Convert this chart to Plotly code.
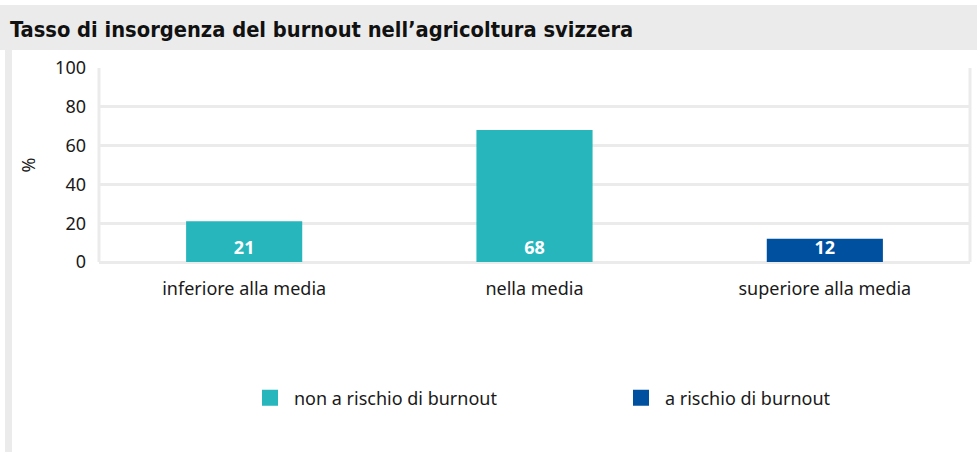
import plotly.graph_objects as go

# Burnout incidence in Swiss agriculture (% of respondents)
categories = ["inferiore alla media", "nella media", "superiore alla media"]
non_a_rischio = [21, 68, None]
a_rischio = [None, None, 12]
series_names = ["non a rischio di burnout", "a rischio di burnout"]
y_ticks = [0, 20, 40, 60, 80, 100]

TEAL = "#26b6bc"
BLUE = "#0050a0"
GRID = "#ebebeb"
FONT = "'Noto Sans', Lato, sans-serif"
FS = 18

W, H = 977, 452
L, R, T, B = 99, 7, 68, 190
pw, ph = W - L - R, H - T - B


def px_x(x):
    return (x - L) / pw


def px_y(y):
    return (H - B - y) / ph


fig = go.Figure()
for name, vals, col, leg in [(series_names[0], non_a_rischio, TEAL, "legend"),
                             (series_names[1], a_rischio, BLUE, "legend2")]:
    fig.add_trace(go.Bar(
        x=categories, y=vals, name=name, marker_color=col,
        marker_line_width=0, width=0.4, showlegend=False,
        text=[None if v is None else str(v) for v in vals],
        textposition="inside", insidetextanchor="start",
        textangle=0, constraintext="none",
        textfont=dict(color="white", size=18, family="'Noto Sans', sans-serif", weight="bold"),
        cliponaxis=False,
    ))
    # legend entry with a larger square swatch
    fig.add_trace(go.Scatter(
        x=[None], y=[None], mode="markers", name=name, legend=leg,
        marker=dict(symbol="square", size=20, color=col),
    ))

shapes = [
    # header band
    dict(type="rect", xref="paper", yref="paper",
         x0=px_x(0), x1=px_x(W + 5), y0=px_y(50), y1=px_y(5),
         fillcolor=GRID, line_width=0, layer="below"),
    # left strip
    dict(type="rect", xref="paper", yref="paper",
         x0=px_x(5), x1=px_x(12), y0=px_y(H + 5), y1=px_y(50),
         fillcolor=GRID, line_width=0, layer="below"),
    # plot frame sides
    dict(type="line", xref="paper", yref="paper", x0=0, x1=0, y0=0, y1=1,
         line=dict(color=GRID, width=3), layer="below"),
    dict(type="line", xref="paper", yref="paper", x0=1, x1=1, y0=0, y1=1,
         line=dict(color=GRID, width=3), layer="below"),
]

legend_style = dict(orientation="h", y=px_y(398), yanchor="middle",
                    xanchor="left", font=dict(size=FS, family=FONT),
                    itemsizing="trace", itemwidth=38, bgcolor="rgba(0,0,0,0)")

fig.update_layout(
    width=W, height=H,
    margin=dict(l=L, r=R, t=T, b=B),
    paper_bgcolor="white", plot_bgcolor="white",
    barmode="relative",
    font=dict(family=FONT, size=FS, color="#1a1a1a"),
    shapes=shapes,
    showlegend=True,
    legend=dict(x=px_x(246), **legend_style),
    legend2=dict(x=px_x(617), **legend_style),
    annotations=[dict(
        text="<b>Tasso di insorgenza del burnout nell’agricoltura svizzera</b>",
        xref="paper", yref="paper", x=px_x(8), y=px_y(29),
        xanchor="left", yanchor="middle", showarrow=False,
        font=dict(size=21.7, family="'DejaVu Sans Condensed', sans-serif",
                  color="#111111"),
    )],
)

fig.update_xaxes(showgrid=False, showline=False, ticks="", tickfont=dict(size=FS),
                 ticklabelstandoff=14)
fig.update_yaxes(range=[0, 100], tickvals=y_ticks, showgrid=True, gridcolor=GRID,
                 gridwidth=3, zeroline=True, zerolinecolor=GRID, zerolinewidth=3,
                 tickfont=dict(size=FS), ticks="", ticklabelstandoff=12,
                 title=dict(text="%", font=dict(size=FS), standoff=14))

fig.write_html("out.html")
